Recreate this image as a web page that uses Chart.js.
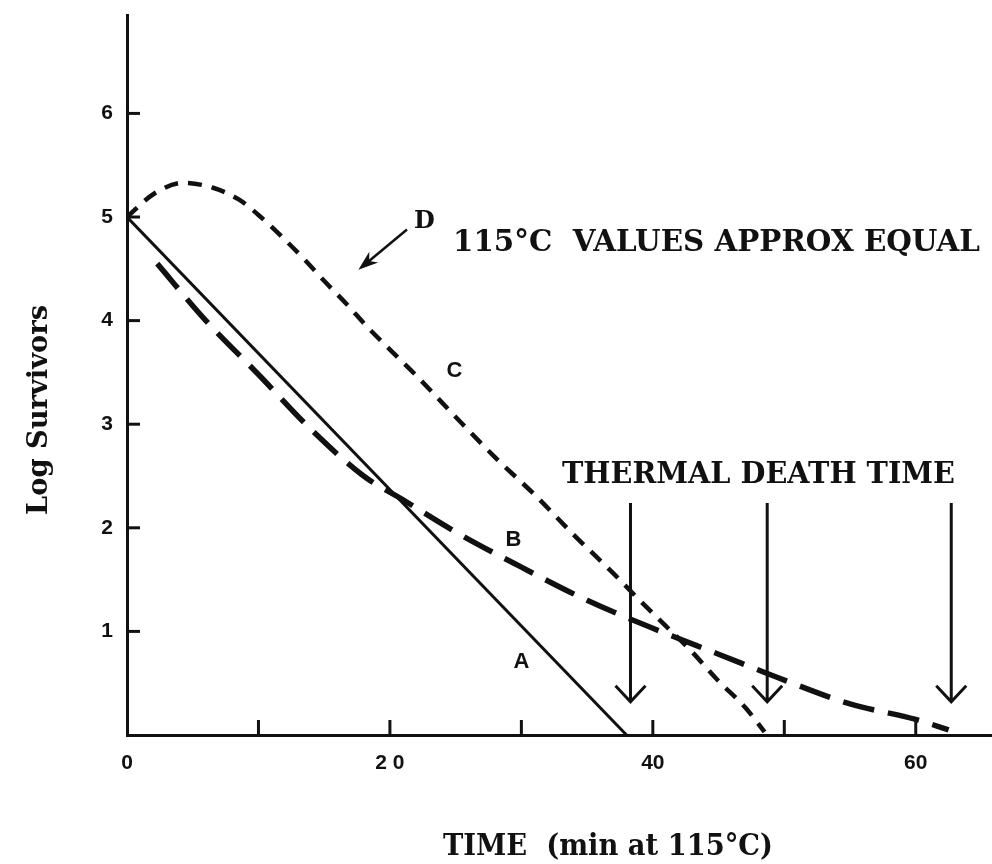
<!DOCTYPE html>
<html>
<head>
<meta charset="utf-8">
<script src="https://cdn.jsdelivr.net/npm/chart.js@4.4.1/dist/chart.umd.min.js"></script>
<style>
  html, body { margin: 0; padding: 0; background: #fff; overflow: hidden; }
  #wrap { width: 992px; height: 864px; position: relative; }
  canvas { display: block; }
</style>
</head>
<body>
<div id="wrap"><canvas id="chart"></canvas></div>
<script>
// curve A - straight line
const aTime = [0, 38];
const aLog = [5, 0];

// curve B - long dashes
const bTime = [2.3, 6, 10, 14, 18, 21, 25, 30, 35, 40, 45, 50, 55, 60, 62.5];
const bLog = [4.55, 4.0, 3.48, 2.95, 2.5, 2.27, 1.96, 1.62, 1.3, 1.03, 0.78, 0.53, 0.3, 0.15, 0.05];

// curve C - short dashes, with shoulder
const cTime = [0, 2, 4.3, 6.6, 8.5, 10, 11.7, 13.5, 15.1, 16.7, 18.2, 20, 22, 25, 28, 31, 34, 37, 39, 41, 43, 45, 47, 48.5];
const cLog = [5.0, 5.22, 5.33, 5.28, 5.17, 5.02, 4.82, 4.59, 4.37, 4.16, 3.95, 3.72, 3.47, 3.07, 2.68, 2.32, 1.93, 1.56, 1.3, 1.05, 0.8, 0.52, 0.27, 0.03];

const xTickValues = [10, 20, 30, 40, 50, 60];
const xLabelValues = [0, 20, 40, 60];
const xLabelTexts = ['0', '2 0', '40', '60'];
const yTickValues = [1, 2, 3, 4, 5, 6];

// thermal death time arrows (min)
const deathTimes = [38.3, 48.7, 62.7];

const ink = '#111';
const zip = (xs, ys) => xs.map((x, i) => ({ x, y: ys[i] }));

function fitText(ctx, text, left, baseline, width) {
  const w = ctx.measureText(text).width;
  ctx.save();
  ctx.translate(left, baseline);
  ctx.scale(width / w, 1);
  ctx.textAlign = 'left';
  ctx.textBaseline = 'alphabetic';
  ctx.fillText(text, 0, 0);
  ctx.restore();
}

const notes = {
  id: 'notes',
  afterDraw(chart) {
    const { ctx, scales: { x, y } } = chart;
    ctx.save();
    ctx.strokeStyle = ink;
    ctx.fillStyle = ink;

    // inward tick marks
    ctx.lineWidth = 3;
    yTickValues.forEach(v => {
      const py = y.getPixelForValue(v);
      ctx.beginPath();
      ctx.moveTo(x.left, py);
      ctx.lineTo(x.left + 13, py);
      ctx.stroke();
    });
    xTickValues.forEach(v => {
      const px = x.getPixelForValue(v);
      ctx.beginPath();
      ctx.moveTo(px, y.bottom);
      ctx.lineTo(px, y.bottom - 15);
      ctx.stroke();
    });

    // thermal death time arrows
    ctx.lineWidth = 3;
    deathTimes.forEach(t => {
      const px = x.getPixelForValue(t);
      const top = y.getPixelForValue(2.24);
      const tip = y.getPixelForValue(0.32);
      ctx.beginPath();
      ctx.moveTo(px, top);
      ctx.lineTo(px, tip);
      ctx.moveTo(px - 15, tip - 16);
      ctx.lineTo(px, tip);
      ctx.lineTo(px + 15, tip - 16);
      ctx.stroke();
    });

    // D arrow
    const tx = x.getPixelForValue(21.3), ty = y.getPixelForValue(4.88);
    const hx = x.getPixelForValue(17.6), hy = y.getPixelForValue(4.49);
    const ang = Math.atan2(hy - ty, hx - tx);
    ctx.lineWidth = 2.5;
    ctx.beginPath();
    ctx.moveTo(tx, ty);
    ctx.lineTo(hx - 10 * Math.cos(ang), hy - 10 * Math.sin(ang));
    ctx.stroke();
    ctx.beginPath();
    ctx.moveTo(hx, hy);
    ctx.lineTo(hx - 20 * Math.cos(ang) + 7 * Math.sin(ang), hy - 20 * Math.sin(ang) - 7 * Math.cos(ang));
    ctx.lineTo(hx - 14 * Math.cos(ang), hy - 14 * Math.sin(ang));
    ctx.lineTo(hx - 20 * Math.cos(ang) - 7 * Math.sin(ang), hy - 20 * Math.sin(ang) + 7 * Math.cos(ang));
    ctx.closePath();
    ctx.fill();

    // serif annotations
    ctx.font = 'bold 30px "DejaVu Serif"';
    fitText(ctx, '115°C  VALUES APPROX EQUAL', 453, 251, 527);
    fitText(ctx, 'THERMAL DEATH TIME', 562, 483, 393);
    fitText(ctx, 'TIME  (min at 115°C)', 443, 855, 330);
    ctx.font = 'bold 24px "DejaVu Serif"';
    ctx.fillText('D', 414, 228);

    ctx.save();
    ctx.translate(47, 515);
    ctx.rotate(-Math.PI / 2);
    ctx.font = 'bold 27px "DejaVu Serif"';
    fitText(ctx, 'Log Survivors', 0, 0, 210);
    ctx.restore();

    // curve letters
    ctx.font = 'bold 22px "Liberation Sans"';
    ctx.textAlign = 'center';
    ctx.textBaseline = 'middle';
    ctx.fillText('A', x.getPixelForValue(30.0), y.getPixelForValue(0.71));
    ctx.fillText('B', x.getPixelForValue(29.4), y.getPixelForValue(1.88));
    ctx.fillText('C', x.getPixelForValue(24.9), y.getPixelForValue(3.51));
    ctx.restore();
  }
};

new Chart(document.getElementById('chart'), {
  type: 'scatter',
  data: {
    datasets: [
      { label: 'A', data: zip(aTime, aLog), showLine: true, borderColor: ink, borderWidth: 3, pointRadius: 0 },
      { label: 'B', data: zip(bTime, bLog), showLine: true, borderColor: ink, borderWidth: 5.5, borderDash: [32, 14], cubicInterpolationMode: 'monotone', pointRadius: 0 },
      { label: 'C', data: zip(cTime, cLog), showLine: true, borderColor: ink, borderWidth: 4.5, borderDash: [14, 10], cubicInterpolationMode: 'monotone', pointRadius: 0 }
    ]
  },
  options: {
    responsive: true,
    maintainAspectRatio: false,
    animation: false,
    layout: { padding: { top: 15, right: 0, left: 0, bottom: 0 } },
    plugins: { legend: { display: false }, tooltip: { enabled: false } },
    scales: {
      x: {
        type: 'linear',
        min: 0,
        max: 65.8,
        afterFit: s => { s.height = 129; s.paddingLeft = 0; s.paddingRight = 0; },
        border: { display: true, color: ink, width: 3 },
        grid: { drawOnChartArea: false, drawTicks: false },
        ticks: {
          stepSize: 10,
          autoSkip: false,
          maxRotation: 0,
          padding: 16,
          color: ink,
          font: { family: 'Liberation Sans', weight: 'bold', size: 21 },
          callback: v => { const i = xLabelValues.indexOf(v); return i >= 0 ? xLabelTexts[i] : ''; }
        }
      },
      y: {
        min: 0,
        max: 6.95,
        afterFit: s => { s.width = 127; s.paddingTop = 0; s.paddingBottom = 0; },
        border: { display: true, color: ink, width: 3 },
        grid: { drawOnChartArea: false, drawTicks: false },
        ticks: {
          stepSize: 1,
          padding: 14,
          color: ink,
          font: { family: 'Liberation Sans', weight: 'bold', size: 21 },
          callback: v => yTickValues.includes(v) ? String(v) : ''
        }
      }
    }
  },
  plugins: [notes]
});
</script>
</body>
</html>
